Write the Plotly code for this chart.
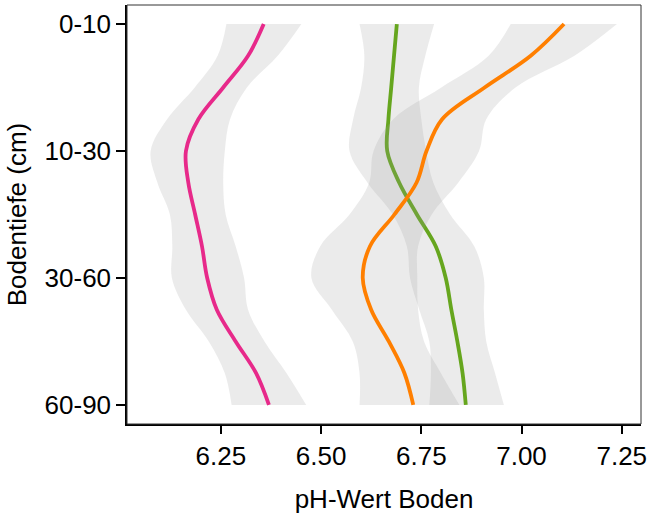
import plotly.graph_objects as go

# depth positions (1 = 0-10, 2 = 10-30, 3 = 30-60, 4 = 60-90)
depth_pos = [1.0, 1.25, 1.5, 1.75, 2.0, 2.25, 2.5, 2.75, 3.0, 3.25, 3.5, 3.75, 4.0]
depth_ticks = [1, 2, 3, 4]
depth_labels = ["0-10", "10-30", "30-60", "60-90"]

# pink series
pink_fit = [6.357, 6.318, 6.256, 6.194, 6.163, 6.169, 6.186, 6.203, 6.216, 6.240, 6.287, 6.338, 6.370]
pink_low = [6.264, 6.242, 6.185, 6.116, 6.075, 6.092, 6.123, 6.129, 6.128, 6.163, 6.220, 6.260, 6.277]
pink_high = [6.451, 6.392, 6.315, 6.273, 6.260, 6.256, 6.262, 6.287, 6.308, 6.318, 6.359, 6.414, 6.463]

# green series
green_fit = [6.689, 6.682, 6.675, 6.668, 6.665, 6.695, 6.739, 6.786, 6.811, 6.825, 6.840, 6.853, 6.861]
green_low = [6.596, 6.608, 6.600, 6.580, 6.571, 6.616, 6.679, 6.714, 6.722, 6.745, 6.770, 6.774, 6.770]
green_high = [6.782, 6.760, 6.744, 6.750, 6.762, 6.780, 6.822, 6.882, 6.906, 6.906, 6.912, 6.934, 6.956]

# orange series
orange_fit = [7.106, 7.023, 6.908, 6.802, 6.763, 6.738, 6.683, 6.622, 6.604, 6.625, 6.669, 6.708, 6.730]
orange_low = [6.973, 6.918, 6.800, 6.680, 6.631, 6.620, 6.571, 6.498, 6.476, 6.527, 6.579, 6.596, 6.596]
orange_high = [7.238, 7.132, 6.985, 6.912, 6.894, 6.842, 6.776, 6.742, 6.740, 6.742, 6.757, 6.799, 6.845]

series = [
    ("pink", pink_fit, pink_low, pink_high, "#E7298A"),
    ("green", green_fit, green_low, green_high, "#66A61E"),
    ("orange", orange_fit, orange_low, orange_high, "#FF7F00"),
]

fig = go.Figure()
for name, fit, low, high, col in series:
    fig.add_trace(go.Scatter(x=low, y=depth_pos, mode="lines",
                             line=dict(width=0, color="rgba(0,0,0,0)", shape="spline"),
                             hoverinfo="skip", showlegend=False))
    fig.add_trace(go.Scatter(x=high, y=depth_pos, mode="lines",
                             line=dict(width=0, color="rgba(0,0,0,0)", shape="spline"),
                             fill="tonextx", fillcolor="rgba(153,153,153,0.2)",
                             hoverinfo="skip", showlegend=False))
    fig.add_trace(go.Scatter(x=fit, y=depth_pos, mode="lines",
                             line=dict(width=3.8, color=col, shape="spline"),
                             name=name, showlegend=False))

font_family = "Liberation Sans, Arial, sans-serif"
fig.update_layout(
    width=652, height=514,
    margin=dict(l=127, r=10, t=5, b=87),
    paper_bgcolor="white", plot_bgcolor="white",
    font=dict(family=font_family, color="black"),
    showlegend=False,
    xaxis=dict(
        range=[6.016, 7.298], tickvals=[6.25, 6.5, 6.75, 7.0, 7.25],
        ticktext=["6.25", "6.50", "6.75", "7.00", "7.25"],
        showgrid=False, zeroline=False,
        showline=True, linecolor="black", linewidth=1.5,
        ticks="outside", ticklen=8, tickwidth=1.5, tickcolor="black",
        tickfont=dict(size=26, color="black"),
        title=dict(text="pH-Wert Boden", font=dict(size=26, color="black"), standoff=20),
    ),
    yaxis=dict(
        range=[4.15, 0.85], tickvals=depth_ticks, ticktext=depth_labels,
        showgrid=False, zeroline=False,
        showline=True, linecolor="black", linewidth=1.5,
        ticks="outside", ticklen=9, tickwidth=1.5, tickcolor="black",
        tickfont=dict(size=26, color="black"),
        title=dict(text="Bodentiefe (cm)", font=dict(size=26, color="black"), standoff=10),
    ),
    shapes=[dict(type="rect", xref="paper", yref="paper", x0=0, y0=0, x1=1, y1=1,
                 line=dict(color="#333333", width=1), fillcolor="rgba(0,0,0,0)", layer="above")],
)

fig.write_html("out.html")
